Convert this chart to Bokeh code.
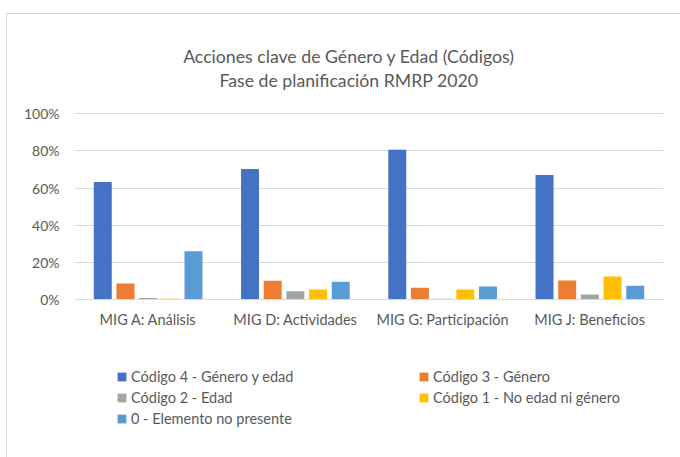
from bokeh.plotting import figure
from bokeh.models import (ColumnDataSource, FactorRange, Range1d, NumeralTickFormatter,
                          Legend, LegendItem, Label)
from bokeh.transform import dodge
from bokeh.embed import file_html
from bokeh.resources import INLINE

categories = ["MIG A: Análisis", "MIG D: Actividades", "MIG G: Participación", "MIG J: Beneficios"]
series_names = ["Código 4 - Género y edad", "Código 3 - Género", "Código 2 - Edad",
                "Código 1 - No edad ni género", "0 - Elemento no presente"]
codigo4 = [0.632, 0.702, 0.806, 0.670]
codigo3 = [0.088, 0.102, 0.065, 0.104]
codigo2 = [0.009, 0.046, 0.005, 0.028]
codigo1 = [0.005, 0.055, 0.055, 0.125]
codigo0 = [0.261, 0.097, 0.072, 0.075]
colors = ["#4472C4", "#ED7D31", "#A5A5A5", "#FFC000", "#5B9BD5"]
y_ticks = [0, 0.2, 0.4, 0.6, 0.8, 1.0]
title_line1 = "Acciones clave de Género y Edad (Códigos)"
title_line2 = "Fase de planificación RMRP 2020"

keys = ["c4", "c3", "c2", "c1", "c0"]
src = ColumnDataSource(dict(cat=categories, c4=codigo4, c3=codigo3, c2=codigo2,
                            c1=codigo1, c0=codigo0))

FONT = "Lato"
TXT = "#595959"

# frame spans page y 0..427; 0% sits at y=299.3 and 100% at y=113
PX = 186.3
FB = 427
p = figure(x_range=FactorRange(*categories, range_padding=0),
           y_range=Range1d(-(FB - 299.3) / PX, 299.3 / PX),
           width=680, height=457, output_backend="svg", toolbar_location=None,
           min_border_left=74, min_border_right=17, min_border_top=0, min_border_bottom=30,
           outline_line_color=None, title=None,
           border_fill_alpha=0, background_fill_alpha=0)

# light chart-area border (left and top edges) painted behind the transparent canvas
p.styles = {
    "background": ("linear-gradient(#D9D9D9, #D9D9D9) 6px 13px / 674px 1px no-repeat, "
                   "linear-gradient(#D9D9D9, #D9D9D9) 6px 13px / 1px 444px no-repeat, #FFFFFF"),
}

pitch = 0.154
renderers = []
for i, (k, c) in enumerate(zip(keys, colors)):
    r = p.vbar(x=dodge("cat", (i - 2) * pitch, range=p.x_range), top=k, width=0.122,
               source=src, fill_color=c, line_color=None)
    renderers.append(r)

p.xgrid.grid_line_color = None
p.ygrid.grid_line_color = "#D9D9D9"
p.yaxis.ticker = y_ticks
p.yaxis.formatter = NumeralTickFormatter(format="0%")
p.yaxis.axis_line_color = None
p.yaxis.major_tick_line_color = None
p.yaxis.minor_tick_line_color = None
p.yaxis.major_tick_out = 0
p.yaxis.major_label_standoff = 15
p.yaxis.major_label_text_font = FONT
p.yaxis.major_label_text_font_size = "14px"
p.yaxis.major_label_text_color = TXT

p.xaxis.fixed_location = 0
p.xaxis.axis_line_color = "#D9D9D9"
p.xaxis.major_tick_line_color = None
p.xaxis.minor_tick_line_color = None
p.xaxis.major_tick_out = 0
p.xaxis.major_label_standoff = 11
p.xaxis.major_label_text_font = FONT
p.xaxis.major_label_text_font_size = "14.5px"
p.xaxis.major_label_text_color = TXT

items = [LegendItem(label=n, renderers=[r]) for n, r in zip(series_names, renderers)]
legend = Legend(items=items, location=(42, 0), orientation="horizontal", ncols=2,
                glyph_width=11, glyph_height=11, label_width=284, label_height=18,
                label_standoff=4, spacing=3, padding=0, margin=0,
                border_line_color=None, background_fill_alpha=0,
                label_text_font=FONT, label_text_font_size="14.5px", label_text_color=TXT)
p.add_layout(legend)

for txt, base in [(title_line1, 56), (title_line2, 80)]:
    p.add_layout(Label(x=348.5 - 74, y=FB - base, x_units="screen", y_units="screen", text=txt,
                       text_align="center", text_baseline="alphabetic", text_font=FONT,
                       text_font_size="17.7px", text_color=TXT))

open("out.html", "w").write(file_html(p, INLINE))
